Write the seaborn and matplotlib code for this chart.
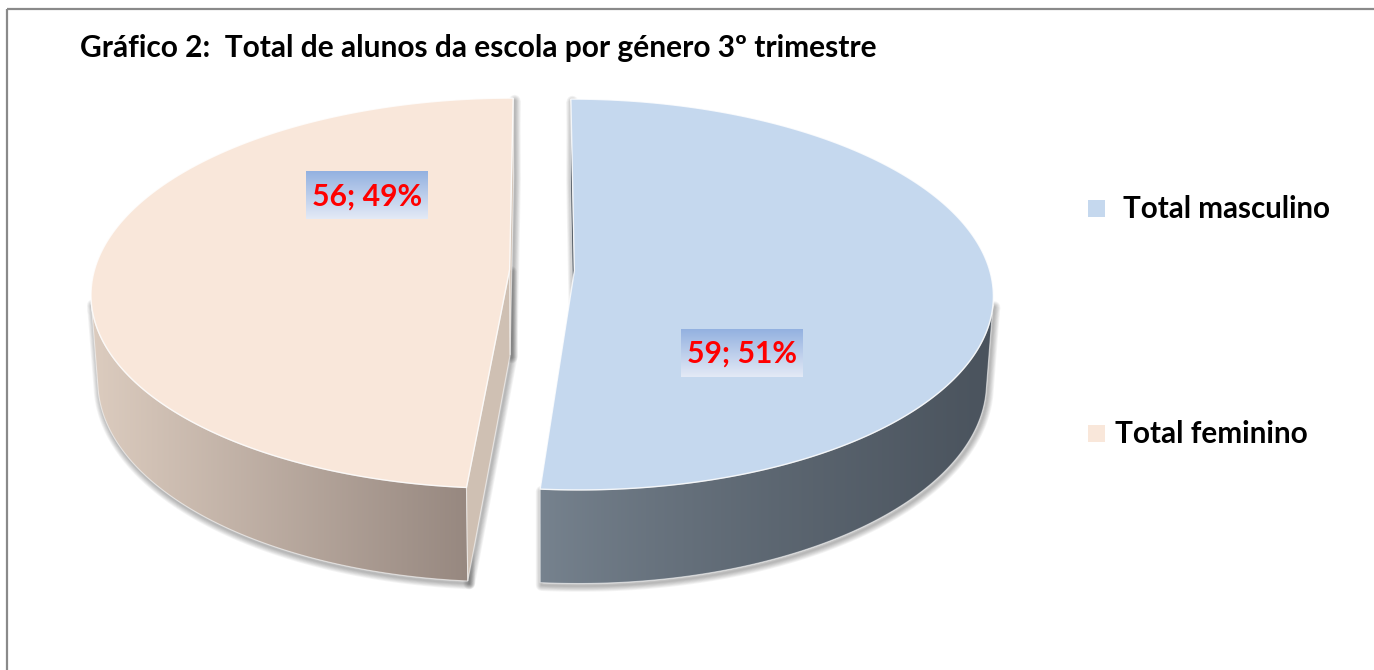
import numpy as np
import matplotlib
matplotlib.use("Agg")
import matplotlib.pyplot as plt
from matplotlib.patches import Polygon, Rectangle
from matplotlib.colors import to_rgb
import seaborn as sns

# ---------------- data ----------------
categories = ["Total masculino", "Total feminino"]
values = [59, 56]
title = "Gráfico 2:  Total de alunos da escola por género 3º trimestre"

top_colors = ["#C5D8EE", "#F9E7DA"]
wall_left = ["#77838F", "#DCCCBF"]
wall_right = ["#4A535D", "#978880"]
cut_colors = ["#4A535D", "#CFC0B3"]

sns.set_theme(style="white")
plt.rcParams['font.family'] = ['Lato', 'DejaVu Sans']

W, H = 1374, 670
fig = plt.figure(figsize=(W / 100, H / 100), dpi=100)
ax = fig.add_axes([0, 0, 1, 1])
ax.axis('off')

# ---------------- 3-D projection ----------------
phi = np.deg2rad(27.6)
D = 7.25
S = 3010.0
CX, CY = 542.0, 270.0
h = 0.236
e = 0.078
cam = np.array([0.0, D * np.sin(phi), -D * np.cos(phi)])


def proj(X, Y, Z):
    X, Y, Z = np.broadcast_arrays(np.asarray(X, float), np.asarray(Y, float), np.asarray(Z, float))
    d = D + Z * np.cos(phi) - Y * np.sin(phi)
    yc = Y * np.cos(phi) + Z * np.sin(phi)
    return np.column_stack([CX + S * X / d, CY - S * yc / d])


def grad_fill(verts, c0, c1, axis='x', zorder=2, gamma=1.0):
    poly = Polygon(verts, closed=True, facecolor='none', edgecolor='none')
    ax.add_patch(poly)
    xs, ys = verts[:, 0], verts[:, 1]
    x0, x1, y0, y1 = xs.min(), xs.max(), ys.min(), ys.max()
    t = np.linspace(0, 1, 256) ** gamma
    a, b = np.array(to_rgb(c0)), np.array(to_rgb(c1))
    cols = a[None, :] * (1 - t[:, None]) + b[None, :] * t[:, None]
    img = cols[None, :, :] if axis == 'x' else cols[:, None, :]
    im = ax.imshow(img, extent=(x0, x1, y1, y0), origin='upper', aspect='auto',
                   zorder=zorder, interpolation='bilinear')
    im.set_clip_path(poly)
    return poly


def shadow(verts, zorder=1):
    for k in range(7, 0, -1):
        ax.add_patch(Polygon(verts + np.array([1.5, 2.5]), closed=True, facecolor='none',
                             edgecolor=(0, 0, 0, 0.045), lw=k * 1.2, joinstyle='round',
                             zorder=zorder))


total = sum(values)
fracs = np.array(values) / total
ends = np.cumsum(fracs) * 2 * np.pi
starts = np.concatenate([[0.0], ends[:-1]])

label_pos = []
for i, (s0, s1) in enumerate(zip(starts, ends)):
    mid = (s0 + s1) / 2
    ox, oz = e * np.sin(mid), e * np.cos(mid)
    th = np.linspace(s0, s1, 500)
    sx, cz = np.sin(th), np.cos(th)

    # outer wall (visible part)
    pmid = np.column_stack([ox + sx, np.full_like(sx, -h / 2), oz + cz])
    nrm = np.column_stack([sx, np.zeros_like(sx), cz])
    vis = np.einsum('ij,ij->i', cam[None, :] - pmid, nrm) > 0
    if vis.any():
        tv = th[vis]
        topv = proj(ox + np.sin(tv), 0, oz + np.cos(tv))
        botv = proj(ox + np.sin(tv), -h, oz + np.cos(tv))
        wall = np.vstack([topv, botv[::-1]])
        shadow(wall)
        grad_fill(wall, wall_left[i], wall_right[i], 'x', zorder=2, gamma=0.8 if i == 0 else 1.0)
        ax.add_patch(Polygon(wall, closed=True, facecolor='none', edgecolor=(1, 1, 1, 0.55),
                             lw=0.8, zorder=2.5))

    # radial cut faces
    for ang, sign in ((s0, -1), (s1, 1)):
        n_vec = sign * np.array([np.cos(ang), 0.0, -np.sin(ang)])
        cen = np.array([ox + 0.5 * np.sin(ang), -h / 2, oz + 0.5 * np.cos(ang)])
        if np.dot(cam - cen, n_vec) > 0:
            q = np.vstack([proj(ox, 0, oz), proj(ox + np.sin(ang), 0, oz + np.cos(ang)),
                           proj(ox + np.sin(ang), -h, oz + np.cos(ang)), proj(ox, -h, oz)])
            shadow(q)
            ax.add_patch(Polygon(q, closed=True, facecolor=cut_colors[i],
                                 edgecolor=(1, 1, 1, 0.55), lw=0.8, zorder=3))

    # top face
    top = np.vstack([proj(ox, 0, oz), proj(ox + sx, 0, oz + cz)])
    ax.add_patch(Polygon(top, closed=True, facecolor=top_colors[i],
                         edgecolor=(1, 1, 1, 0.8), lw=1.0, zorder=4))

    lang = mid + np.deg2rad(45)
    label_pos.append(proj(ox + 0.55 * np.sin(lang), 0, oz + 0.55 * np.cos(lang))[0])

fig.canvas.draw()
renderer = fig.canvas.get_renderer()


def fit_text(x, y, s, target_w, size0, **kw):
    t = ax.text(x, y, s, fontsize=size0, **kw)
    w = t.get_window_extent(renderer).width
    t.set_fontsize(size0 * target_w / w)
    return t


# data labels
for i, v in enumerate(values):
    lx, ly = label_pos[i]
    lx += 3
    txt = f"{v}; {round(100 * v / total)}%"
    bw, bh = 122, 48
    box = np.array([[lx - bw / 2, ly - bh / 2], [lx + bw / 2, ly - bh / 2],
                    [lx + bw / 2, ly + bh / 2], [lx - bw / 2, ly + bh / 2]])
    grad_fill(box, "#93B1E0", "#E4EAF6", 'y', zorder=6)
    fit_text(lx, ly + 1, txt, 110, 19, color='#FF0000', fontweight='bold',
             ha='center', va='center', zorder=7)

# title
fit_text(80, 57, title, 793, 19, color='black', fontweight='bold',
         ha='left', va='baseline', zorder=8)

# legend
leg_y = [208, 433]
leg_tx = [1123, 1115]
leg_w = [207, 193]
for i, cat in enumerate(categories):
    ax.add_patch(Rectangle((1088, leg_y[i] - 8.5), 17, 17, facecolor=top_colors[i],
                           edgecolor='none', zorder=8))
    fit_text(leg_tx[i], leg_y[i] + 1, cat, leg_w[i], 21, color='black', fontweight='bold',
             ha='left', va='center', zorder=8)

# chart border (top and left)
ax.plot([7, W], [9, 9], color='#8A8A8A', lw=1.6, zorder=9, solid_capstyle='butt')
ax.plot([7, 7], [9, H], color='#8A8A8A', lw=1.6, zorder=9, solid_capstyle='butt')

ax.set_xlim(0, W)
ax.set_ylim(H, 0)
fig.savefig("out.png", dpi=100)
